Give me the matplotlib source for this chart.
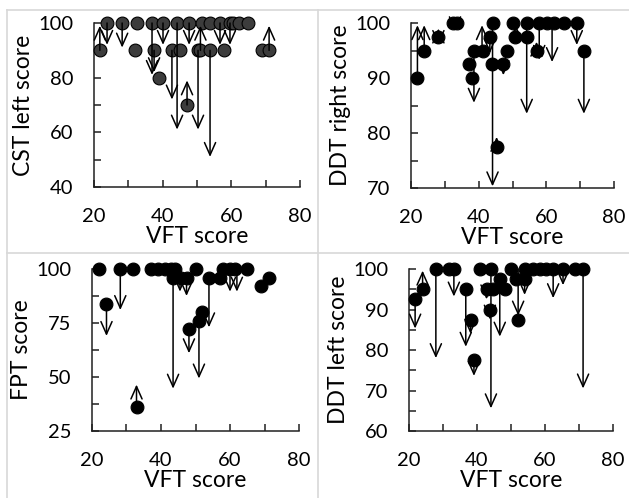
import numpy as np
import matplotlib
matplotlib.use("Agg")
import matplotlib.pyplot as plt
from matplotlib.lines import Line2D

plt.rcParams['font.family'] = ['Lato', 'DejaVu Sans']

# ---- CST left score (top left) ----
cst_x = [23.8, 28.2, 32.5, 36.9, 40.1, 44.2, 47.7, 51.5, 53.8, 56.7, 59.6, 60.5, 62.2, 64.9,
         21.7, 31.9, 37.5, 42.7, 45.0, 50.3, 51.0, 53.8, 57.9, 68.9, 71.0,
         38.9, 47.1]
cst_y = [100, 100, 100, 100, 100, 100, 100, 100, 100, 100, 100, 100, 100, 100,
         90, 90, 90, 90, 90, 90, 90, 90, 90, 90, 90,
         80, 70]
cst_ax = [21.7, 23.8, 28.2, 36.9, 37.5, 40.1, 42.7, 44.2, 47.1, 47.7, 50.3, 51.0, 53.8, 56.7, 59.6, 71.0]
cst_from = [90, 100, 100, 100, 90, 100, 90, 100, 70, 100, 90, 90, 90, 100, 100, 90]
cst_to = [99, 92, 91, 81, 82, 92, 72, 61, 79, 92, 61, 99, 51, 92, 92, 99]

# ---- DDT right score (top right) ----
ddtr_x = [21.9, 23.9, 28.1, 32.5, 33.5, 37.2, 38.1, 38.6, 41.4, 43.3, 44.1, 44.0, 45.3, 47.3,
          48.3, 50.0, 50.7, 54.2, 54.2, 57.1, 57.9, 60.3, 62.4, 65.2, 69.0, 71.1]
ddtr_y = [90, 95, 97.5, 100, 100, 92.5, 90, 95, 95, 97.5, 100, 92.5, 77.5, 92.5,
          95, 100, 97.5, 97.5, 100, 95, 100, 100, 100, 100, 100, 95]
ddtr_ax = [21.9, 23.9, 28.1, 28.1, 33.0, 38.6, 41.0, 43.3, 44.1, 45.3, 47.3, 51.0, 54.2,
           57.1, 57.9, 61.7, 69.0, 71.1]
ddtr_from = [90, 95, 97.5, 97.5, 100, 95, 95, 97.5, 100, 77.5, 92.5, 97.5, 100,
             95, 100, 100, 100, 95]
ddtr_to = [99.6, 99.6, 99.0, 96.0, 98.5, 85.5, 99.6, 94.5, 70.3, 79.3, 90.5, 99.6, 83.5,
           96.6, 93.3, 92.9, 96.0, 83.5]

# ---- FPT score (bottom left) ----
fpt_x = [21.9, 24.2, 28.2, 31.9, 32.9, 37.2, 39.1, 41.1, 43.0, 44.0, 43.5, 45.9, 47.4,
         50.2, 48.1, 51.0, 51.9, 53.9, 57.0, 58.0, 60.0, 61.5, 64.9, 68.9, 71.3]
fpt_y = [100, 84, 100, 100, 36, 100, 100, 100, 100, 100, 96, 96, 96,
         100, 72, 76, 80, 96, 96, 100, 100, 100, 100, 92.3, 96]
fpt_ax = [24.2, 28.2, 32.9, 43.5, 45.5, 47.4, 48.1, 51.0, 53.9, 60.0, 62.0]
fpt_from = [84, 100, 36, 96, 96, 96, 72, 76, 96, 100, 100]
fpt_to = [69, 81, 46.5, 44.6, 89.5, 87.5, 61, 49.3, 73, 89.5, 89.5]

# ---- DDT left score (bottom right) ----
ddtl_x = [21.8, 24.0, 27.9, 31.8, 33.2, 36.7, 38.1, 39.1, 40.8, 42.8, 44.1, 43.8, 44.6,
          46.7, 48.2, 49.9, 51.6, 54.0, 52.1, 54.1, 56.5, 58.5, 60.4, 62.4, 65.3, 68.7, 71.2]
ddtl_y = [92.5, 95, 100, 100, 100, 95, 87.5, 77.5, 100, 95, 100, 90, 95,
          97.5, 95, 100, 97.5, 97.5, 87.5, 100, 100, 100, 100, 100, 100, 100, 100]
ddtl_ax = [21.8, 24.0, 27.9, 33.2, 36.7, 38.1, 39.1, 42.8, 44.1, 43.8, 46.7, 52.1, 54.0,
           62.4, 65.3, 71.2]
ddtl_from = [92.5, 95, 100, 100, 95, 87.5, 77.5, 95, 100, 90, 97.5, 100, 97.5,
             100, 100, 100]
ddtl_to = [85.3, 99.6, 78, 93.2, 80.8, 84, 73.6, 92.5, 65.6, 87.5, 83.3, 88.5, 93.6,
           92.8, 96, 70.5]

panels = [
    ([94, 23, 300, 187], "CST left score", (40, 100), 20, 10, cst_x, cst_y, cst_ax, cst_from, cst_to, '#3c3c3c'),
    ([411, 23, 614, 188], "DDT right score", (70, 100), 10, 5, ddtr_x, ddtr_y, ddtr_ax, ddtr_from, ddtr_to, 'black'),
    ([92, 269, 299, 431], "FPT score", (25, 100), 25, 12.5, fpt_x, fpt_y, fpt_ax, fpt_from, fpt_to, 'black'),
    ([409, 269, 613, 431], "DDT left score", (60, 100), 10, 5, ddtl_x, ddtl_y, ddtl_ax, ddtl_from, ddtl_to, 'black'),
]

W, H = 629, 498
fig = plt.figure(figsize=(W / 100, H / 100), dpi=100)

# light cell borders
grid_col = '#d8d8d8'
fig.add_artist(Line2D([7 / W, 1], [1 - 10 / H, 1 - 10 / H], color=grid_col, lw=1.2))
fig.add_artist(Line2D([7 / W, 7 / W], [0, 1 - 10 / H], color=grid_col, lw=1.2))
fig.add_artist(Line2D([318 / W, 318 / W], [0, 1 - 10 / H], color=grid_col, lw=1.2))
fig.add_artist(Line2D([7 / W, 1], [1 - 253 / H, 1 - 253 / H], color=grid_col, lw=1.2))

for box, ylabel, ylim, ymaj, ymin, px, py, axx, afrom, ato, fc in panels:
    x0, y0, x1, y1 = box
    ax = fig.add_axes([x0 / W, 1 - y1 / H, (x1 - x0) / W, (y1 - y0) / H])
    ax.set_xlim(20, 80)
    ax.set_ylim(*ylim)
    ax.spines['top'].set_visible(False)
    ax.spines['right'].set_visible(False)
    for s in ['left', 'bottom']:
        ax.spines[s].set_linewidth(1.1)
        ax.spines[s].set_color('#202020')
    ax.set_xticks(np.arange(20, 81, 20))
    ax.set_xticks(np.arange(20, 81, 10), minor=True)
    ax.set_yticks(np.arange(ylim[0], ylim[1] + 0.1, ymaj))
    ax.set_yticks(np.arange(ylim[0], ylim[1] + 0.1, ymin), minor=True)
    ax.tick_params(which='both', direction='in', length=5, width=1.1, color='#202020',
                   labelsize=14.5, pad=15)
    ax.set_xlabel("VFT score", fontsize=16.5, labelpad=1)
    ax.set_ylabel(ylabel, fontsize=16.5, labelpad=3)

    ax.scatter(px, py, s=85, facecolor=fc, edgecolor='black', linewidth=0.8, zorder=3, clip_on=False)
    for xa, ya, yb in zip(axx, afrom, ato):
        ax.annotate("", xy=(xa, yb), xytext=(xa, ya),
                    arrowprops=dict(arrowstyle='->,head_length=0.9,head_width=0.4',
                                    color='black', lw=1.1, shrinkA=0, shrinkB=0),
                    zorder=4, annotation_clip=False)

fig.savefig("out.png", dpi=100)
